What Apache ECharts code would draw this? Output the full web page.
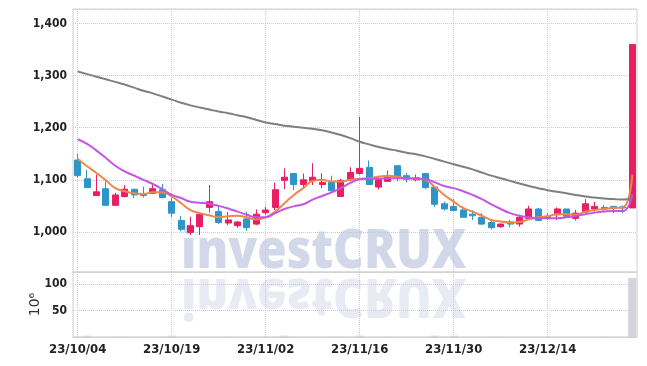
<!DOCTYPE html>
<html><head><meta charset="utf-8">
<script src="https://cdn.jsdelivr.net/npm/echarts@6/dist/echarts.min.js"></script>
<style>html,body{margin:0;padding:0;background:#fff}#c{width:647px;height:366px}</style>
</head><body><div id="c"></div>
<script>
const dates = ['23/10/04','23/10/05','23/10/06','23/10/10','23/10/11','23/10/12','23/10/13','23/10/16','23/10/17','23/10/18',
'23/10/19','23/10/20','23/10/23','23/10/24','23/10/25','23/10/26','23/10/27','23/10/30','23/10/31','23/11/01',
'23/11/02','23/11/03','23/11/06','23/11/07','23/11/08','23/11/09','23/11/10','23/11/13','23/11/14','23/11/15',
'23/11/16','23/11/17','23/11/20','23/11/21','23/11/22','23/11/23','23/11/24','23/11/27','23/11/28','23/11/29',
'23/11/30','23/12/01','23/12/04','23/12/05','23/12/06','23/12/07','23/12/08','23/12/11','23/12/12','23/12/13',
'23/12/14','23/12/15','23/12/18','23/12/19','23/12/20','23/12/21','23/12/22','23/12/26','23/12/27','23/12/28'];
const opens  = [1138,1102,1070,1083,1051,1068,1082,1073,1074,1081,1058,1022,999,1010,1047,1039,1017,1012,1025,1015,
1037,1047,1099,1112,1091,1098,1091,1095,1068,1100,1112,1124,1086,1097,1127,1108,1100,1112,1086,1054,
1049,1042,1034,1028,1018,1010,1019,1015,1026,1044,1030,1033,1044,1026,1038,1044,1047,1049,1048,1046];
const closes = [1108,1085,1077,1051,1071,1082,1071,1070,1083,1066,1036,1005,1012,1034,1058,1018,1023,1019,1008,1034,
1042,1081,1105,1091,1100,1105,1095,1079,1099,1114,1122,1091,1101,1105,1106,1101,1104,1085,1053,1044,
1041,1028,1031,1015,1008,1015,1015,1028,1044,1022,1026,1044,1030,1036,1054,1049,1044,1046,1046,1360];
const lows   = [1104,1085,1070,1051,1050,1066,1065,1066,1073,1064,1029,1001,994,994,1037,1015,1013,1008,1002,1013,
1033,1042,1082,1080,1086,1090,1084,1077,1068,1097,1110,1091,1081,1096,1097,1095,1097,1082,1048,1041,
1040,1028,1023,1013,1005,1008,1009,1010,1026,1022,1023,1023,1028,1022,1037,1039,1038,1036,1036,1046];
const highs  = [1150,1119,1110,1100,1075,1090,1082,1087,1090,1092,1065,1031,1029,1036,1090,1050,1038,1021,1039,1043,
1048,1095,1122,1112,1112,1132,1113,1108,1102,1124,1221,1137,1108,1118,1127,1113,1110,1112,1087,1058,
1063,1049,1042,1036,1021,1016,1023,1033,1050,1046,1036,1047,1044,1042,1063,1058,1051,1050,1051,1360];
const volumes = [0.5,2.5,0.5,0.5,0.5,0.5,0.5,0.5,0.5,0.5,2.5,0.5,0.5,0.5,0.5,0.5,0.5,0.5,0.5,0.5,
0.5,0.5,2.5,0.5,0.5,0.5,0.5,0.5,0.5,0.5,2.5,0.5,0.5,0.5,0.5,0.5,0.5,0.5,2.5,0.5,
2.5,0.5,0.5,0.5,0.5,0.5,0.5,0.5,0.5,0.5,0.5,0.5,0.5,0.5,0.5,0.5,0.5,0.5,0.5,111.5];
const ma5  = [1140,1126,1113,1099,1084,1078,1074,1073,1076,1076,1068,1055,1042,1036,1032,1028,1030,1031,1028,1024,
1028,1039,1055,1071,1084,1098,1100,1097,1097,1100,1102,1103,1106,1108,1106,1103,1103,1100,1086,1071,
1058,1046,1039,1031,1023,1020,1018,1019,1024,1028,1030,1034,1034,1033,1039,1042,1044,1046,1047,1110];
const ma10 = [1178,1169,1156,1142,1127,1116,1108,1100,1092,1082,1071,1065,1058,1056,1054,1050,1045,1039,1033,1028,
1028,1036,1044,1049,1053,1062,1069,1076,1084,1094,1101,1102,1102,1103,1103,1103,1102,1101,1095,1088,
1084,1078,1071,1063,1053,1044,1036,1031,1028,1026,1026,1026,1028,1031,1034,1037,1039,1040,1040,1072];
const ma60 = [1308,1303,1298,1293,1288,1283,1277,1271,1266,1260,1254,1248,1243,1239,1235,1231,1228,1224,1220,1215,
1210,1207,1204,1202,1200,1198,1195,1191,1186,1180,1173,1168,1163,1159,1156,1152,1149,1145,1140,1135,
1130,1125,1120,1114,1108,1103,1098,1093,1088,1084,1080,1077,1074,1071,1068,1066,1064,1063,1062,1065];

const FONT = '"DejaVu Sans Condensed", sans-serif';
const UP = '#e91e63', DOWN = '#2f95c8';
const candleData = dates.map((d, i) => [opens[i], closes[i], lows[i], highs[i]]);
const dotted = { color: '#c8c8da', type: 'dotted', width: 1 };

const chart = echarts.init(document.getElementById('c'), null, { renderer: 'canvas' });
chart.setOption({
  animation: false,
  grid: [
    { left: 73, right: 10, top: 9, height: 263, show: true, borderColor: '#d0d0d0', borderWidth: 1 },
    { left: 73, right: 10, top: 272, height: 65, show: true, borderColor: '#d0d0d0', borderWidth: 1 }
  ],
  xAxis: [
    { type: 'category', data: dates, gridIndex: 0, boundaryGap: true,
      axisLine: { show: false }, axisTick: { show: false }, axisLabel: { show: false },
      splitLine: { show: true, interval: 9, alignWithLabel: true, lineStyle: dotted } },
    { type: 'category', data: dates, gridIndex: 1, boundaryGap: true,
      axisLine: { show: true, lineStyle: { color: '#d0d0d0' } }, axisTick: { show: false },
      axisLabel: { show: true, interval: 9, color: '#222', fontFamily: FONT, fontWeight: 'bold', fontSize: 13, margin: 6 },
      splitLine: { show: true, interval: 9, alignWithLabel: true, lineStyle: dotted } }
  ],
  yAxis: [
    { type: 'value', gridIndex: 0, min: 923, max: 1428, splitNumber: 5,
      axisLine: { show: false }, axisTick: { show: false },
      axisLabel: { showMinLabel: false, showMaxLabel: false, color: '#222', fontFamily: FONT, fontWeight: 'bold', fontSize: 12, margin: 6,
        formatter: v => v.toLocaleString('en-US') },
      splitLine: { show: true, lineStyle: dotted } },
    { type: 'value', gridIndex: 1, min: 0, max: 123, splitNumber: 2,
      name: '10\u2076', nameLocation: 'middle', nameGap: 31, nameRotate: 90, nameMoveOverlap: false,
      nameTextStyle: { color: '#333', fontFamily: 'DejaVu Sans', fontSize: 14 },
      axisLine: { show: false }, axisTick: { show: false },
      axisLabel: { showMinLabel: false, showMaxLabel: false, color: '#222', fontFamily: FONT, fontWeight: 'bold', fontSize: 12, margin: 6 },
      splitLine: { show: true, lineStyle: dotted } }
  ],
  graphic: [
    { type: 'text', z: -10, x: 181, y: 280, scaleX: 0.88, silent: true,
      style: { text: 'investCRUX', font: '800 54px "Open Sans"', fill: '#d2d8ea', verticalAlign: 'bottom', align: 'left' } },
    { type: 'text', z: -10, x: 181, y: 267, scaleX: 0.88, scaleY: -1, silent: true,
      style: { text: 'investCRUX', font: '800 54px "Open Sans"', fill: '#e9ebf4', verticalAlign: 'bottom', align: 'left' } }
  ],
  series: [
    { type: 'candlestick', xAxisIndex: 0, yAxisIndex: 0, data: candleData, barWidth: '70%',
      itemStyle: { color: UP, color0: DOWN, borderColor: UP, borderColor0: DOWN, borderWidth: 1 } },
    { type: 'line', xAxisIndex: 0, yAxisIndex: 0, data: ma5, smooth: true, showSymbol: false,
      lineStyle: { color: '#f0864a', width: 2 } },
    { type: 'line', xAxisIndex: 0, yAxisIndex: 0, data: ma10, smooth: true, showSymbol: false,
      lineStyle: { color: '#c455e6', width: 2 } },
    { type: 'line', xAxisIndex: 0, yAxisIndex: 0, data: ma60, smooth: true, showSymbol: false,
      lineStyle: { color: '#7f7f7f', width: 2 } },
    { type: 'bar', xAxisIndex: 1, yAxisIndex: 1, data: volumes, barWidth: '88%',
      itemStyle: { color: '#d3d3da' } }
  ]
});
</script></body></html>
